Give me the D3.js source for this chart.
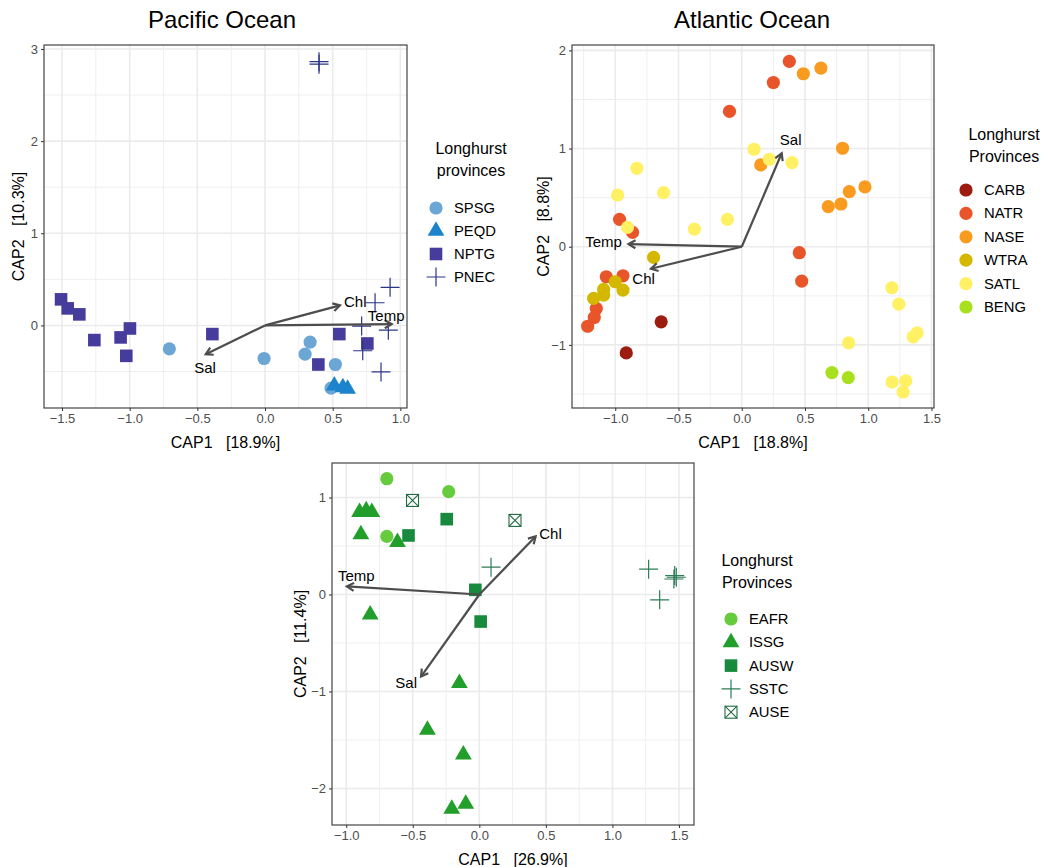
<!DOCTYPE html>
<html>
<head>
<meta charset="utf-8">
<script src="https://cdn.jsdelivr.net/npm/d3@7"></script>
<style>
  body { margin: 0; background: #fff; }
  text { font-family: "Liberation Sans", Arial, Helvetica, sans-serif; }
</style>
</head>
<body>
<svg id="chart" width="1047" height="867"></svg>
<script>
// ---------- Pacific Ocean: CAP scores by Longhurst province ----------
const pacProvinces = ["SPSG", "PEQD", "NPTG", "PNEC"];
const pacSPSG = [[-0.707,-0.254],[-0.007,-0.359],[0.333,-0.181],[0.296,-0.312],[0.520,-0.424],[0.488,-0.681]];
const pacPEQD = [[0.512,-0.655],[0.575,-0.672],[0.610,-0.690]];
const pacNPTG = [[-1.507,0.283],[-1.458,0.185],[-1.372,0.120],[-1.261,-0.159],[-1.067,-0.130],[-0.998,-0.033],
                 [-1.025,-0.330],[-0.389,-0.094],[0.549,-0.094],[0.756,-0.196],[0.394,-0.424]];
const pacPNEC = [[0.399,2.862],[0.399,2.835],[0.924,0.413],[0.813,0.246],[0.714,-0.007],[0.911,-0.051],
                 [0.722,-0.275],[0.857,-0.504]];
const pacVectors = ["Chl", "Temp", "Sal"];
const pacVecTips = [[0.554,0.217],[0.936,0.014],[-0.438,-0.312]];
const pacVecLabels = [[0.667,0.257],[0.895,0.112],[-0.443,-0.457]];

// ---------- Atlantic Ocean ----------
const atlProvinces = ["CARB", "NATR", "NASE", "WTRA", "SATL", "BENG"];
const atlCARB = [[-0.637,-0.765],[-0.913,-1.082]];
const atlNATR = [[0.376,1.888],[0.250,1.673],[-0.097,1.378],[-0.966,0.279],[-0.863,0.146],[-1.071,-0.306],
                 [-0.939,-0.296],[-1.150,-0.629],[-1.166,-0.721],[-1.218,-0.810],[0.455,-0.061],[0.474,-0.350]];
const atlNASE = [[0.487,1.762],[0.626,1.820],[0.797,1.003],[0.150,0.833],[0.974,0.609],[0.850,0.561],
                 [0.784,0.435],[0.684,0.408]];
const atlWTRA = [[-0.697,-0.109],[-1.000,-0.357],[-0.939,-0.442],[-1.092,-0.435],[-1.092,-0.493],[-1.171,-0.527]];
const atlSATL = [[0.097,0.993],[0.218,0.891],[0.397,0.857],[-0.829,0.799],[-0.982,0.527],[-0.618,0.551],
                 [-0.113,0.279],[-0.374,0.180],[-0.903,0.197],[1.187,-0.418],[1.242,-0.585],[1.355,-0.918],
                 [1.387,-0.878],[0.845,-0.980],[1.189,-1.378],[1.297,-1.367],[1.276,-1.480]];
const atlBENG = [[0.713,-1.282],[0.842,-1.333]];
const atlVectors = ["Temp", "Chl", "Sal"];
const atlVecTips = [[-0.895,0.027],[-0.718,-0.224],[0.316,0.952]];
const atlVecLabels = [[-1.092,0.051],[-0.776,-0.323],[0.387,1.088]];

// ---------- Indian Ocean ----------
const indProvinces = ["EAFR", "ISSG", "AUSW", "SSTC", "AUSE"];
const indEAFR = [[-0.695,1.194],[-0.230,1.060],[-0.695,0.599]];
const indISSG = [[-0.900,0.850],[-0.850,0.866],[-0.808,0.850],[-0.890,0.619],[-0.615,0.540],[-0.820,-0.207],
                 [-0.150,-0.915],[-0.390,-1.397],[-0.120,-1.651],[-0.207,-2.212],[-0.102,-2.160]];
const indAUSW = [[-0.532,0.609],[-0.245,0.777],[-0.030,0.048],[0.010,-0.279]];
const indSSTC = [[0.088,0.282],[1.272,0.261],[1.355,-0.055],[1.468,0.195],[1.480,0.178],[1.462,0.160]];
const indAUSE = [[-0.502,0.970],[0.268,0.764]];
const indVectors = ["Temp", "Chl", "Sal"];
const indVecTips = [[-0.995,0.083],[0.423,0.599],[-0.438,-0.846]];
const indVecLabels = [[-0.925,0.200],[0.535,0.633],[-0.550,-0.908]];

const svg = d3.select("#chart");

// marker shapes (ggplot-style point shapes)
function drawMarker(g, shape, color, cx, cy) {
  if (shape === "circle") {
    g.append("circle").attr("cx", cx).attr("cy", cy).attr("r", 6.6).attr("fill", color);
  } else if (shape === "square") {
    g.append("rect").attr("x", cx - 6.3).attr("y", cy - 6.3).attr("width", 12.6).attr("height", 12.6).attr("fill", color);
  } else if (shape === "triangle") {
    const h = 14.5, w = 16.8;
    g.append("path")
      .attr("d", `M${cx},${cy - h * 2 / 3}L${cx + w / 2},${cy + h / 3}L${cx - w / 2},${cy + h / 3}Z`)
      .attr("fill", color);
  } else if (shape === "plus") {
    const s = 9.5;
    g.append("path")
      .attr("d", `M${cx - s},${cy}H${cx + s}M${cx},${cy - s}V${cy + s}`)
      .attr("stroke", color).attr("stroke-width", 1.2).attr("fill", "none");
  } else if (shape === "squarecross") {
    const s = 6;
    g.append("rect").attr("x", cx - s).attr("y", cy - s).attr("width", 2 * s).attr("height", 2 * s)
      .attr("fill", "none").attr("stroke", color).attr("stroke-width", 1.1);
    g.append("path")
      .attr("d", `M${cx - s},${cy - s}L${cx + s},${cy + s}M${cx + s},${cy - s}L${cx - s},${cy + s}`)
      .attr("stroke", color).attr("stroke-width", 1.1);
  }
}

function minorBreaks(major, domain) {
  const step = major[1] - major[0];
  const ext = [major[0] - step, ...major, major[major.length - 1] + step];
  const out = [];
  for (let i = 0; i < ext.length - 1; i++) {
    const m = (ext[i] + ext[i + 1]) / 2;
    if (m >= domain[0] && m <= domain[1]) out.push(m);
  }
  return out;
}

function drawPanel(cfg) {
  const g = svg.append("g");
  const x = d3.scaleLinear().domain(cfg.xDomain).range([cfg.left, cfg.left + cfg.width]);
  const y = d3.scaleLinear().domain(cfg.yDomain).range([cfg.top + cfg.height, cfg.top]);
  const gridColor = "#ebebeb";

  // minor grid
  minorBreaks(cfg.xTicks, cfg.xDomain).forEach(v => {
    g.append("line").attr("x1", x(v)).attr("x2", x(v)).attr("y1", cfg.top).attr("y2", cfg.top + cfg.height)
      .attr("stroke", gridColor).attr("stroke-width", 0.8);
  });
  minorBreaks(cfg.yTicks, cfg.yDomain).forEach(v => {
    g.append("line").attr("y1", y(v)).attr("y2", y(v)).attr("x1", cfg.left).attr("x2", cfg.left + cfg.width)
      .attr("stroke", gridColor).attr("stroke-width", 0.8);
  });
  // major grid
  cfg.xTicks.forEach(v => {
    g.append("line").attr("x1", x(v)).attr("x2", x(v)).attr("y1", cfg.top).attr("y2", cfg.top + cfg.height)
      .attr("stroke", gridColor).attr("stroke-width", 1.6);
  });
  cfg.yTicks.forEach(v => {
    g.append("line").attr("y1", y(v)).attr("y2", y(v)).attr("x1", cfg.left).attr("x2", cfg.left + cfg.width)
      .attr("stroke", gridColor).attr("stroke-width", 1.6);
  });

  // axes
  const xAxis = d3.axisBottom(x).tickValues(cfg.xTicks).tickFormat(d3.format(".1f")).tickSize(3).tickPadding(3);
  const yAxis = d3.axisLeft(y).tickValues(cfg.yTicks).tickFormat(d3.format("d")).tickSize(3).tickPadding(3);
  const gx = g.append("g").attr("transform", `translate(0,${cfg.top + cfg.height})`).call(xAxis);
  const gy = g.append("g").attr("transform", `translate(${cfg.left},0)`).call(yAxis);
  [gx, gy].forEach(a => {
    a.select(".domain").remove();
    a.selectAll(".tick line").attr("stroke", "#333333").attr("stroke-width", 1);
    a.selectAll(".tick text").attr("fill", "#4d4d4d").style("font-size", "13px")
      .style("font-family", "\"Liberation Sans\", Arial, sans-serif");
  });

  // points
  const pg = g.append("g");
  cfg.groups.forEach(grp => {
    grp.data.forEach(p => drawMarker(pg, grp.shape, grp.color, x(p[0]), y(p[1])));
  });

  // environmental vectors
  const ag = g.append("g");
  const x0 = x(0), y0 = y(0);
  cfg.vecTips.forEach((t, i) => {
    const tx = x(t[0]), ty = y(t[1]);
    const ang = Math.atan2(ty - y0, tx - x0);
    const L = 8, a = Math.PI / 6;
    ag.append("line").attr("x1", x0).attr("y1", y0).attr("x2", tx).attr("y2", ty)
      .attr("stroke", "#4d4d4d").attr("stroke-width", 2.2);
    ag.append("path")
      .attr("d", `M${tx - L * Math.cos(ang - a)},${ty - L * Math.sin(ang - a)}L${tx},${ty}L${tx - L * Math.cos(ang + a)},${ty - L * Math.sin(ang + a)}`)
      .attr("stroke", "#4d4d4d").attr("stroke-width", 2.2).attr("fill", "none")
      .attr("stroke-linejoin", "miter");
    ag.append("text").attr("x", x(cfg.vecLabels[i][0])).attr("y", y(cfg.vecLabels[i][1]))
      .attr("text-anchor", "middle").attr("dominant-baseline", "central")
      .style("font-size", "15px").attr("fill", "#000").text(cfg.vectors[i]);
  });

  // panel border
  g.append("rect").attr("x", cfg.left).attr("y", cfg.top).attr("width", cfg.width).attr("height", cfg.height)
    .attr("fill", "none").attr("stroke", "#333333").attr("stroke-width", 1.1);

  // axis titles
  g.append("text").attr("x", cfg.left + cfg.width / 2).attr("y", cfg.top + cfg.height + 34)
    .attr("text-anchor", "middle").attr("dominant-baseline", "central").style("font-size", "16px")
    .attr("fill", "#000").attr("xml:space", "preserve").text(cfg.xTitle);
  g.append("text")
    .attr("transform", `translate(${cfg.yTitleX},${cfg.top + cfg.height / 2}) rotate(-90)`)
    .attr("text-anchor", "middle").attr("dominant-baseline", "central").style("font-size", "16px")
    .attr("fill", "#000").attr("xml:space", "preserve").text(cfg.yTitle);

  // panel title
  if (cfg.title) {
    g.append("text").attr("x", cfg.titleX).attr("y", 19).attr("text-anchor", "middle")
      .attr("dominant-baseline", "central").style("font-size", "24px").attr("fill", "#000").text(cfg.title);
  }

  // legend
  const lg = g.append("g");
  cfg.legendTitle.forEach((line, i) => {
    lg.append("text").attr("x", cfg.legend.titleX).attr("y", cfg.legend.titleY + i * 22)
      .attr("text-anchor", "middle").attr("dominant-baseline", "central").style("font-size", "16px")
      .attr("fill", "#000").text(line);
  });
  cfg.groups.forEach((grp, i) => {
    const cy = cfg.legend.itemY + i * cfg.legend.step;
    drawMarker(lg, grp.shape, grp.color, cfg.legend.symX, cy);
    lg.append("text").attr("x", cfg.legend.symX + 18).attr("y", cy)
      .attr("dominant-baseline", "central").style("font-size", "14.8px").attr("fill", "#000").text(grp.name);
  });
}

// Pacific
drawPanel({
  left: 44, top: 45, width: 363, height: 363,
  xDomain: [-1.633, 1.049], yDomain: [-0.896, 3.043],
  xTicks: [-1.5, -1, -0.5, 0, 0.5, 1], yTicks: [0, 1, 2, 3],
  groups: [
    { name: pacProvinces[0], shape: "circle", color: "#6ba6d4", data: pacSPSG },
    { name: pacProvinces[1], shape: "triangle", color: "#1c84cc", data: pacPEQD },
    { name: pacProvinces[2], shape: "square", color: "#463c9c", data: pacNPTG },
    { name: pacProvinces[3], shape: "plus", color: "#2b3585", data: pacPNEC }
  ],
  vectors: pacVectors, vecTips: pacVecTips, vecLabels: pacVecLabels,
  xTitle: "CAP1   [18.9%]", yTitle: "CAP2   [10.3%]", yTitleX: 18,
  title: "Pacific Ocean", titleX: 222,
  legendTitle: ["Longhurst", "provinces"],
  legend: { titleX: 471, titleY: 148, itemY: 208, step: 23, symX: 436 }
});

// Atlantic
drawPanel({
  left: 572, top: 45, width: 362, height: 363,
  xDomain: [-1.342, 1.520], yDomain: [-1.643, 2.055],
  xTicks: [-1, -0.5, 0, 0.5, 1, 1.5], yTicks: [-1, 0, 1, 2],
  groups: [
    { name: atlProvinces[0], shape: "circle", color: "#9c1c0f", data: atlCARB },
    { name: atlProvinces[1], shape: "circle", color: "#e8552b", data: atlNATR },
    { name: atlProvinces[2], shape: "circle", color: "#f89b1e", data: atlNASE },
    { name: atlProvinces[3], shape: "circle", color: "#d4b800", data: atlWTRA },
    { name: atlProvinces[4], shape: "circle", color: "#fff064", data: atlSATL },
    { name: atlProvinces[5], shape: "circle", color: "#a8e01e", data: atlBENG }
  ],
  vectors: atlVectors, vecTips: atlVecTips, vecLabels: atlVecLabels,
  xTitle: "CAP1   [18.8%]", yTitle: "CAP2   [8.8%]", yTitleX: 543,
  title: "Atlantic Ocean", titleX: 752,
  legendTitle: ["Longhurst", "Provinces"],
  legend: { titleX: 1004, titleY: 134, itemY: 190, step: 23.4, symX: 966 }
});

// Indian
drawPanel({
  left: 332, top: 463, width: 362, height: 362,
  xDomain: [-1.107, 1.613], yDomain: [-2.377, 1.356],
  xTicks: [-1, -0.5, 0, 0.5, 1, 1.5], yTicks: [-2, -1, 0, 1],
  groups: [
    { name: indProvinces[0], shape: "circle", color: "#66cc3e", data: indEAFR },
    { name: indProvinces[1], shape: "triangle", color: "#229e2a", data: indISSG },
    { name: indProvinces[2], shape: "square", color: "#178a3e", data: indAUSW },
    { name: indProvinces[3], shape: "plus", color: "#2e7d57", data: indSSTC },
    { name: indProvinces[4], shape: "squarecross", color: "#1f6b40", data: indAUSE }
  ],
  vectors: indVectors, vecTips: indVecTips, vecLabels: indVecLabels,
  xTitle: "CAP1   [26.9%]", yTitle: "CAP2   [11.4%]", yTitleX: 300,
  title: null,
  legendTitle: ["Longhurst", "Provinces"],
  legend: { titleX: 757, titleY: 560, itemY: 619, step: 23.3, symX: 731 }
});
</script>
</body>
</html>
